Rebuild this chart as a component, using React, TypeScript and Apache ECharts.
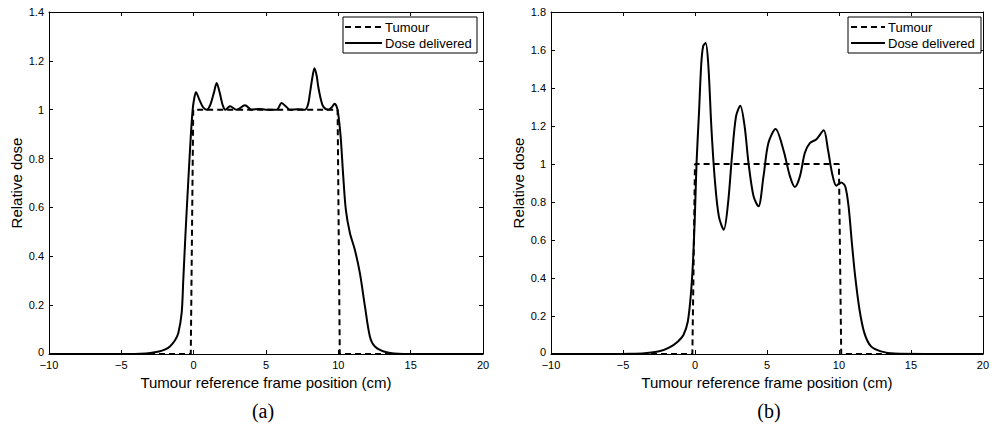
import React, { useEffect, useRef } from "react";
import * as echarts from "echarts";

// ---- Data (a) ----
const tumourAX = [-10, -0.2, -0.03, 9.95, 10.1, 20];
const tumourAY = [0, 0, 1, 1, 0, 0];
const doseAX = [-10, -6, -4.5, -3.7, -3, -2.4, -2.0, -1.64, -1.3, -1.06, -0.83, -0.72, -0.55, -0.37, -0.21, -0.07, 0.05, 0.16, 0.4, 0.65, 0.9, 1.15, 1.4, 1.59, 1.8, 2.0, 2.2, 2.51, 2.97, 3.55, 4.01, 4.5, 5.0, 5.74, 6.08, 6.4, 6.66, 7.2, 7.69, 7.9, 8.04, 8.2, 8.35, 8.5, 8.61, 8.8, 8.96, 9.3, 9.55, 9.74, 9.9, 10.0, 10.16, 10.34, 10.52, 10.8, 11.14, 11.49, 11.84, 12.18, 12.53, 13.34, 14.5, 17, 20];
const doseAY = [0, 0, 0, 0.001, 0.004, 0.01, 0.018, 0.031, 0.055, 0.086, 0.168, 0.3, 0.51, 0.71, 0.88, 1.0, 1.05, 1.072, 1.04, 1.01, 1.0, 1.02, 1.07, 1.109, 1.07, 1.02, 1.0, 1.014, 1.0, 1.018, 1.0, 1.003, 1.0, 1.0, 1.027, 1.012, 1.0, 1.002, 1.0, 1.02, 1.068, 1.13, 1.17, 1.14, 1.095, 1.04, 1.013, 1.0, 1.01, 1.024, 1.01, 0.98, 0.89, 0.727, 0.59, 0.495, 0.427, 0.331, 0.195, 0.072, 0.031, 0.007, 0, 0, 0];

// ---- Data (b) ----
const tumourBX = [-10, -0.18, 0, 10, 10.16, 20];
const tumourBY = [0, 0, 1, 1, 0, 0];
const doseBX = [-10, -6, -4.5, -3.5, -2.48, -1.8, -1.2, -0.8, -0.5, -0.3, -0.14, 0, 0.11, 0.28, 0.44, 0.57, 0.74, 0.92, 1.15, 1.38, 1.66, 2.0, 2.3, 2.57, 2.85, 3.15, 3.45, 3.72, 4.07, 4.41, 4.76, 5.1, 5.6, 6.14, 6.6, 6.94, 7.29, 7.63, 7.98, 8.44, 8.94, 9.24, 9.52, 9.82, 10.16, 10.44, 10.67, 10.9, 11.13, 11.43, 11.77, 12.23, 12.92, 13.84, 16, 20];
const doseBY = [0, 0, 0.001, 0.004, 0.014, 0.033, 0.065, 0.1, 0.17, 0.3, 0.48, 0.74, 1.005, 1.27, 1.53, 1.62, 1.637, 1.53, 1.18, 0.917, 0.724, 0.654, 0.795, 1.04, 1.25, 1.307, 1.198, 1.005, 0.83, 0.777, 0.935, 1.11, 1.184, 1.075, 0.935, 0.879, 0.935, 1.058, 1.11, 1.13, 1.177, 1.075, 0.953, 0.886, 0.903, 0.882, 0.777, 0.584, 0.408, 0.233, 0.11, 0.04, 0.014, 0.002, 0, 0];

const xMin = -10;
const xMax = 20;
const xStep = 5;
const yMaxA = 1.4;
const yMaxB = 1.8;
const yStep = 0.2;

const seriesNames = ["Tumour", "Dose delivered"];
const captions = ["(a)", "(b)"];
const xName = "Tumour reference frame position (cm)";
const yName = "Relative dose";

const FONT = "Liberation Sans, Arial, Helvetica, sans-serif";

function zip(xs: number[], ys: number[]) {
  return xs.map((x, i) => [x, ys[i]]);
}

function xAxes(gridIndex: number) {
  const common = {
    type: "value",
    gridIndex,
    min: xMin,
    max: xMax,
    interval: xStep,
    splitLine: { show: false },
    axisLine: { show: true, onZero: false, lineStyle: { color: "#000", width: 1 } },
    axisTick: { show: true, inside: true, length: 4, lineStyle: { color: "#000", width: 1 } },
  };
  return [
    {
      ...common,
      position: "bottom",
      name: xName,
      nameLocation: "middle",
      nameGap: 18,
      nameTextStyle: { color: "#000", fontSize: 15, fontFamily: FONT },
      axisLabel: {
        color: "#000",
        fontSize: 11,
        lineHeight: 10,
        fontFamily: FONT,
        margin: 6,
        formatter: (v: number) => (v < 0 ? "\u2212" + Math.abs(v) : String(v)),
      },
    },
    { ...common, position: "top", axisLabel: { show: false } },
  ];
}

function yAxes(gridIndex: number, max: number) {
  const common = {
    type: "value",
    gridIndex,
    min: 0,
    max,
    interval: yStep,
    splitLine: { show: false },
    axisLine: { show: true, onZero: false, lineStyle: { color: "#000", width: 1 } },
    axisTick: { show: true, inside: true, length: 4, lineStyle: { color: "#000", width: 1 } },
  };
  return [
    {
      ...common,
      position: "left",
      name: yName,
      nameLocation: "middle",
      nameGap: 25,
      nameTextStyle: { color: "#000", fontSize: 15, fontFamily: FONT },
      axisLabel: {
        color: "#000",
        fontSize: 11,
        lineHeight: 10,
        fontFamily: FONT,
        margin: 5,
        formatter: (v: number) => {
          const s = String(Math.round(v * 10) / 10);
          return v === 0 ? `{z|${s}}` : s;
        },
        rich: {
          z: { fontSize: 11, lineHeight: 10, fontFamily: FONT, color: "#000", padding: [0, 0, 4, 0] },
        },
      },
    },
    { ...common, position: "right", axisLabel: { show: false } },
  ];
}

function legendGraphic(boxX: number, boxW: number, lineX0: number, lineX1: number, textX: number) {
  return {
    type: "group",
    children: [
      {
        type: "rect",
        shape: { x: boxX, y: 17, width: boxW, height: 36 },
        style: { fill: "#fff", stroke: "#000", lineWidth: 1 },
        z: 10,
      },
      {
        type: "line",
        shape: { x1: lineX0, y1: 27, x2: lineX1, y2: 27 },
        style: { stroke: "#000", lineWidth: 2, lineDash: [6, 4] },
        z: 11,
      },
      {
        type: "line",
        shape: { x1: lineX0, y1: 43, x2: lineX1, y2: 43 },
        style: { stroke: "#000", lineWidth: 2 },
        z: 11,
      },
      {
        type: "text",
        x: textX,
        y: 27,
        style: { text: seriesNames[0], fill: "#000", font: `13px ${FONT}`, verticalAlign: "middle", align: "left" },
        z: 11,
      },
      {
        type: "text",
        x: textX,
        y: 43,
        style: { text: seriesNames[1], fill: "#000", font: `13px ${FONT}`, verticalAlign: "middle", align: "left" },
        z: 11,
      },
    ],
  };
}

export default function App() {
  const ref = useRef<HTMLDivElement>(null);
  useEffect(() => {
    if (!ref.current) return;
    const chart = echarts.init(ref.current, undefined, { renderer: "svg" });
    const dashStyle = { color: "#000", width: 2, type: [6, 4] };
    const solidStyle = { color: "#000", width: 2 };
    chart.setOption({
      animation: false,
      backgroundColor: "#fff",
      grid: [
        { left: 49, top: 12, width: 434, height: 342 },
        { left: 551, top: 12, width: 435, height: 342 },
      ],
      xAxis: [...xAxes(0), ...xAxes(1)],
      yAxis: [...yAxes(0, yMaxA), ...yAxes(1, yMaxB)],
      series: [
        {
          name: seriesNames[0],
          type: "line",
          xAxisIndex: 0,
          yAxisIndex: 0,
          data: zip(tumourAX, tumourAY),
          showSymbol: false,
          lineStyle: dashStyle,
          itemStyle: { color: "#000" },
        },
        {
          name: seriesNames[1],
          type: "line",
          xAxisIndex: 0,
          yAxisIndex: 0,
          data: zip(doseAX, doseAY),
          showSymbol: false,
          smooth: 0.3,
          lineStyle: solidStyle,
          itemStyle: { color: "#000" },
        },
        {
          name: seriesNames[0],
          type: "line",
          xAxisIndex: 2,
          yAxisIndex: 2,
          data: zip(tumourBX, tumourBY),
          showSymbol: false,
          lineStyle: dashStyle,
          itemStyle: { color: "#000" },
        },
        {
          name: seriesNames[1],
          type: "line",
          xAxisIndex: 2,
          yAxisIndex: 2,
          data: zip(doseBX, doseBY),
          showSymbol: false,
          smooth: 0.3,
          lineStyle: solidStyle,
          itemStyle: { color: "#000" },
        },
      ],
      graphic: [
        legendGraphic(343, 134, 345, 382, 385),
        legendGraphic(848, 133, 851, 885, 888),
        {
          type: "text",
          x: 263,
          y: 411,
          style: { text: captions[0], fill: "#000", font: "20px Liberation Serif, serif", align: "center", verticalAlign: "middle" },
        },
        {
          type: "text",
          x: 769,
          y: 411,
          style: { text: captions[1], fill: "#000", font: "20px Liberation Serif, serif", align: "center", verticalAlign: "middle" },
        },
      ],
    });
    return () => chart.dispose();
  }, []);
  return (
    <div
      ref={ref}
      style={{ position: "absolute", left: 0, top: 0, width: 992, height: 429 }}
    />
  );
}
